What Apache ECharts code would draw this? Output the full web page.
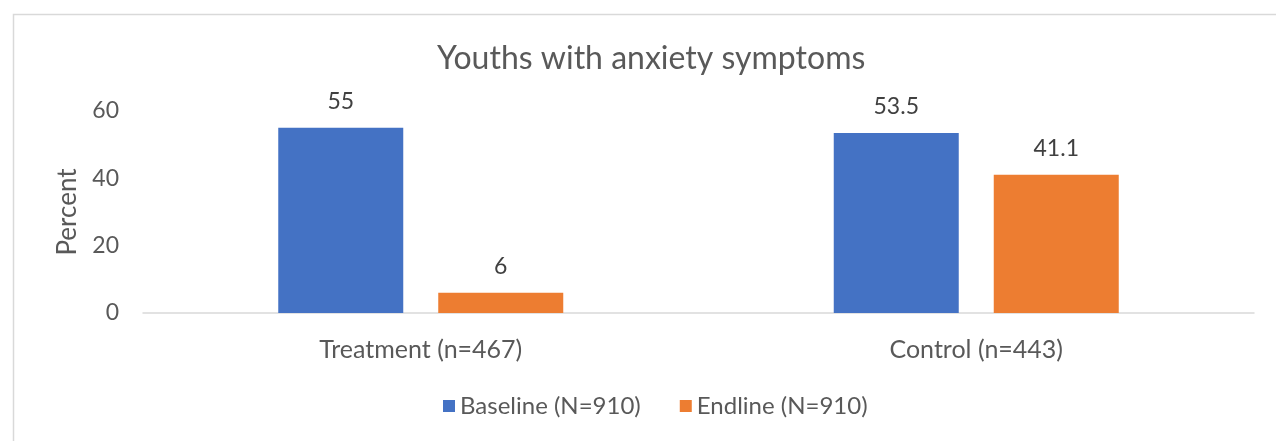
<!DOCTYPE html>
<html>
<head>
<meta charset="utf-8">
<script src="https://cdn.jsdelivr.net/npm/echarts@6/dist/echarts.min.js"></script>
<style>
  html, body { margin: 0; padding: 0; background: #fff; }
  #chart { width: 1276px; height: 441px; }
</style>
</head>
<body>
<div id="chart"></div>
<script>
// Share of youths reporting anxiety symptoms, by study arm
const categories = ['Treatment (n=467)', 'Control (n=443)'];
const baselineValues = [55, 53.5];
const endlineValues = [6, 41.1];
const seriesNames = ['Baseline (N=910)', 'Endline (N=910)'];
const yTicks = { min: 0, max: 60, interval: 20 };

const FONT = 'Lato';
const chart = echarts.init(document.getElementById('chart'));

const labelStyle = {
  show: true,
  position: 'top',
  distance: 15,
  color: '#404040',
  fontSize: 23,
  fontFamily: FONT
};

chart.setOption({
  backgroundColor: '#ffffff',
  animation: false,
  graphic: [{
    type: 'rect',
    left: 11,
    top: 12,
    shape: { width: 1400, height: 600 },
    style: { fill: 'none', stroke: '#d9d9d9', lineWidth: 1.5 },
    silent: true
  }],
  title: {
    text: 'Youths with anxiety symptoms',
    left: 432,
    top: 38,
    textStyle: { color: '#595959', fontSize: 32, fontWeight: 'normal', fontFamily: FONT }
  },
  legend: {
    data: seriesNames,
    bottom: 18,
    left: 438,
    icon: 'rect',
    itemWidth: 12,
    itemHeight: 12,
    itemGap: 39,
    textStyle: { color: '#595959', fontSize: 24, fontFamily: FONT }
  },
  grid: { left: 143, right: 22, top: 111, bottom: 128 },
  xAxis: {
    type: 'category',
    data: categories,
    axisLine: { lineStyle: { color: '#d9d9d9', width: 1.5 } },
    axisTick: { show: false },
    axisLabel: { color: '#595959', fontSize: 25, fontFamily: FONT, margin: 24 }
  },
  yAxis: {
    type: 'value',
    min: yTicks.min,
    max: yTicks.max,
    interval: yTicks.interval,
    name: 'Percent',
    nameLocation: 'middle',
    nameRotate: 90,
    nameGap: 62,
    nameTextStyle: { color: '#595959', fontSize: 26, fontFamily: FONT },
    axisLine: { show: false },
    axisTick: { show: false },
    splitLine: { show: false },
    axisLabel: { color: '#595959', fontSize: 23, fontFamily: FONT, margin: 24 }
  },
  series: [
    {
      name: seriesNames[0],
      type: 'bar',
      data: baselineValues,
      barWidth: 125,
      barGap: '28%',
      itemStyle: { color: '#4472C4' },
      label: labelStyle
    },
    {
      name: seriesNames[1],
      type: 'bar',
      data: endlineValues,
      barWidth: 125,
      barGap: '28%',
      itemStyle: { color: '#ED7D31' },
      label: labelStyle
    }
  ]
});
</script>
</body>
</html>
